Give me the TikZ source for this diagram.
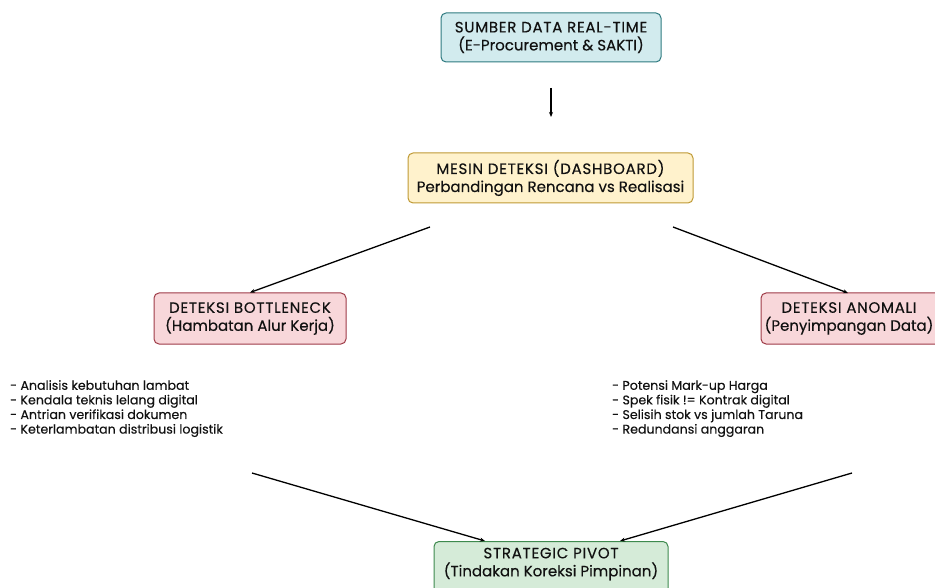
\documentclass[tikz,border=0pt]{standalone}
\usepackage{fontspec}
\setmainfont{Poppins}[FakeBold=0.3]
\usetikzlibrary{arrows.meta}
\definecolor{bluefill}{HTML}{D2EBEE}
\definecolor{blueline}{HTML}{2E7A80}
\definecolor{yelfill}{HTML}{FFF2CC}
\definecolor{yelline}{HTML}{BF9A35}
\definecolor{redfill}{HTML}{F8D7DA}
\definecolor{redline}{HTML}{9E3B47}
\definecolor{grnfill}{HTML}{D5EBD8}
\definecolor{grnline}{HTML}{3E8A4E}
\definecolor{txt}{HTML}{111111}
\newcommand{\capsline}[1]{{\addfontfeature{LetterSpace=5}#1}}
\tikzset{
  box/.style={draw, rounded corners=5pt, line width=1pt, align=center, text=txt,
    font=\fontsize{15}{18}\selectfont, inner sep=0pt},
  boxtxt/.style={text=txt, font=\fontsize{15}{18}\selectfont, align=center, inner sep=0pt},
  listtxt/.style={align=left, anchor=north west, text=txt, inner sep=0pt,
    font=\fontsize{12.6}{14.6}\selectfont},
  conn/.style={line width=1.3pt, -{Stealth[length=5pt,width=4pt]}},
}
\begin{document}
\begin{tikzpicture}[x=1pt,y=-1pt]
\useasboundingbox (0,0) rectangle (935,588);
\clip (0,0) rectangle (935,588);
\node[box, fill=bluefill, draw=blueline, minimum width=220pt, minimum height=49pt] (src) at (551,37.5) {\capsline{SUMBER DATA REAL-TIME}\\(E-Procurement \& SAKTI)};
\node[box, fill=yelfill, draw=yelline, minimum width=285pt, minimum height=50pt] (eng) at (550.5,178) {\capsline{MESIN DETEKSI (DASHBOARD)}\\Perbandingan Rencana vs Realisasi};
\node[box, fill=redfill, draw=redline, minimum width=192pt, minimum height=51pt] (bot) at (250,318.5) {\capsline{DETEKSI BOTTLENECK}\\(Hambatan Alur Kerja)};
\node[box, fill=redfill, draw=redline, minimum width=192pt, minimum height=51pt] (ano) at (857,318.5) {};
\node[boxtxt] (anot) at (849,318.5) {\capsline{DETEKSI ANOMALI}\\(Penyimpangan Data)};
\node[box, fill=grnfill, draw=grnline, minimum width=234pt, minimum height=52pt, anchor=north] (piv) at (551,541) {};
\node[boxtxt] (pivt) at (551,564) {\capsline{STRATEGIC PIVOT}\\(Tindakan Koreksi Pimpinan)};
\node[listtxt] (l1) at (10,380) {- Analisis kebutuhan lambat\\- Kendala teknis lelang digital\\- Antrian verifikasi dokumen\\- Keterlambatan distribusi logistik};
\node[listtxt] (l2) at (612,380) {- Potensi Mark-up Harga\\- Spek fisik != Kontrak digital\\- Selisih stok vs jumlah Taruna\\- Redundansi anggaran};
\coordinate (a0) at (551,88);
\coordinate (a1) at (551,117);
\coordinate (b0) at (430,227);
\coordinate (c0) at (673,227);
\coordinate (c1) at (848,293);
\coordinate (d0) at (252,473);
\coordinate (d1) at (485,541);
\coordinate (e0) at (852,473);
\coordinate (e1) at (620,541);
\draw[conn] (a0) -- (a1);
\draw[conn] (b0) -- (bot.north);
\draw[conn] (c0) -- (c1);
\draw[conn] (d0) -- (d1);
\draw[conn] (e0) -- (e1);
\end{tikzpicture}
\end{document}
